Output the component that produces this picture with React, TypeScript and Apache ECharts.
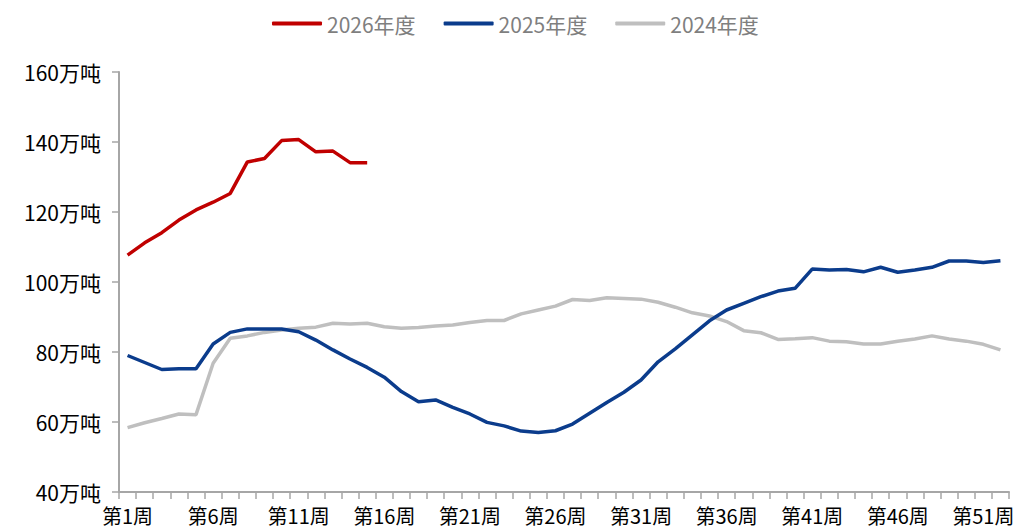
import React, { useEffect, useRef } from "react";
import * as echarts from "echarts";

const weeks: string[] = Array.from({ length: 52 }, (_, i) => `第${i + 1}周`);

const s2026: number[] = [
  107.7, 111.2, 114.1, 117.7, 120.6, 122.8, 125.3, 134.3, 135.3, 140.4, 140.7, 137.2, 137.4, 134.1, 134.1,
];

const s2025: number[] = [
  79.0, 77.0, 75.0, 75.2, 75.2, 82.3, 85.6, 86.6, 86.6, 86.6, 85.8, 83.4, 80.6, 78.0, 75.6, 72.8, 68.7, 65.8,
  66.3, 64.2, 62.3, 59.9, 58.9, 57.4, 57.0, 57.5, 59.4, 62.5, 65.6, 68.5, 72.0, 77.2, 80.9, 84.9, 88.9, 92.0,
  93.9, 95.8, 97.4, 98.2, 103.7, 103.4, 103.6, 102.9, 104.2, 102.8, 103.4, 104.2, 106.0, 106.0, 105.6, 106.1,
];

const s2024: number[] = [
  58.4, 59.8, 61.0, 62.3, 62.1, 76.8, 83.9, 84.6, 85.6, 86.3, 86.8, 87.1, 88.2, 88.0, 88.2, 87.2, 86.8, 87.0,
  87.4, 87.7, 88.4, 89.0, 89.0, 90.9, 92.0, 93.1, 95.0, 94.7, 95.5, 95.3, 95.1, 94.2, 92.8, 91.2, 90.3, 88.7,
  86.1, 85.5, 83.6, 83.8, 84.1, 83.1, 82.9, 82.3, 82.3, 83.1, 83.7, 84.6, 83.7, 83.1, 82.2, 80.6,
];

const seriesNames = ["2026年度", "2025年度", "2024年度"];
const seriesColors = ["#C00000", "#0B3C8C", "#BFBFBF"];

export default function App() {
  const ref = useRef<HTMLDivElement>(null);
  useEffect(() => {
    if (!ref.current) return;
    const chart = echarts.init(ref.current, undefined, { renderer: "svg" });
    const font = '"Noto Sans CJK SC", "Noto Sans", sans-serif';
    const data = [s2026, s2025, s2024];
    chart.setOption({
      animation: false,
      backgroundColor: "#ffffff",
      textStyle: { fontFamily: font },
      legend: {
        top: 8,
        left: 267,
        itemWidth: 50,
        itemHeight: 4,
        itemGap: 28,
        icon: "roundRect",
        textStyle: { fontSize: 21, color: "#7F7F7F", fontFamily: font },
        data: seriesNames,
      },
      grid: { left: 119, right: 11, top: 72, bottom: 40, containLabel: false },
      xAxis: {
        type: "category",
        data: weeks,
        boundaryGap: true,
        axisLine: { lineStyle: { color: "#A6A6A6", width: 2 } },
        axisTick: { show: true, interval: 0, length: 7, lineStyle: { color: "#A6A6A6", width: 1.5 } },
        axisLabel: { interval: 4, fontSize: 20, color: "#000000", margin: 13, fontFamily: font },
        splitLine: { show: false },
      },
      yAxis: {
        type: "value",
        min: 40,
        max: 160,
        interval: 20,
        axisLine: { show: true, lineStyle: { color: "#A6A6A6", width: 2 } },
        axisTick: { show: true, length: 7, lineStyle: { color: "#A6A6A6", width: 1.5 } },
        axisLabel: { formatter: "{value}万吨", fontSize: 21, color: "#000000", margin: 18, fontFamily: font },
        splitLine: { show: false },
      },
      series: data.map((d, i) => ({
        name: seriesNames[i],
        type: "line",
        data: d,
        symbol: "none",
        smooth: false,
        z: 10 - i,
        lineStyle: { color: seriesColors[i], width: 3.5 },
        itemStyle: { color: seriesColors[i] },
      })),
    });
    return () => chart.dispose();
  }, []);
  return (
    <div
      ref={ref}
      style={{ position: "fixed", left: 0, top: 0, width: 1020, height: 532 }}
    />
  );
}
